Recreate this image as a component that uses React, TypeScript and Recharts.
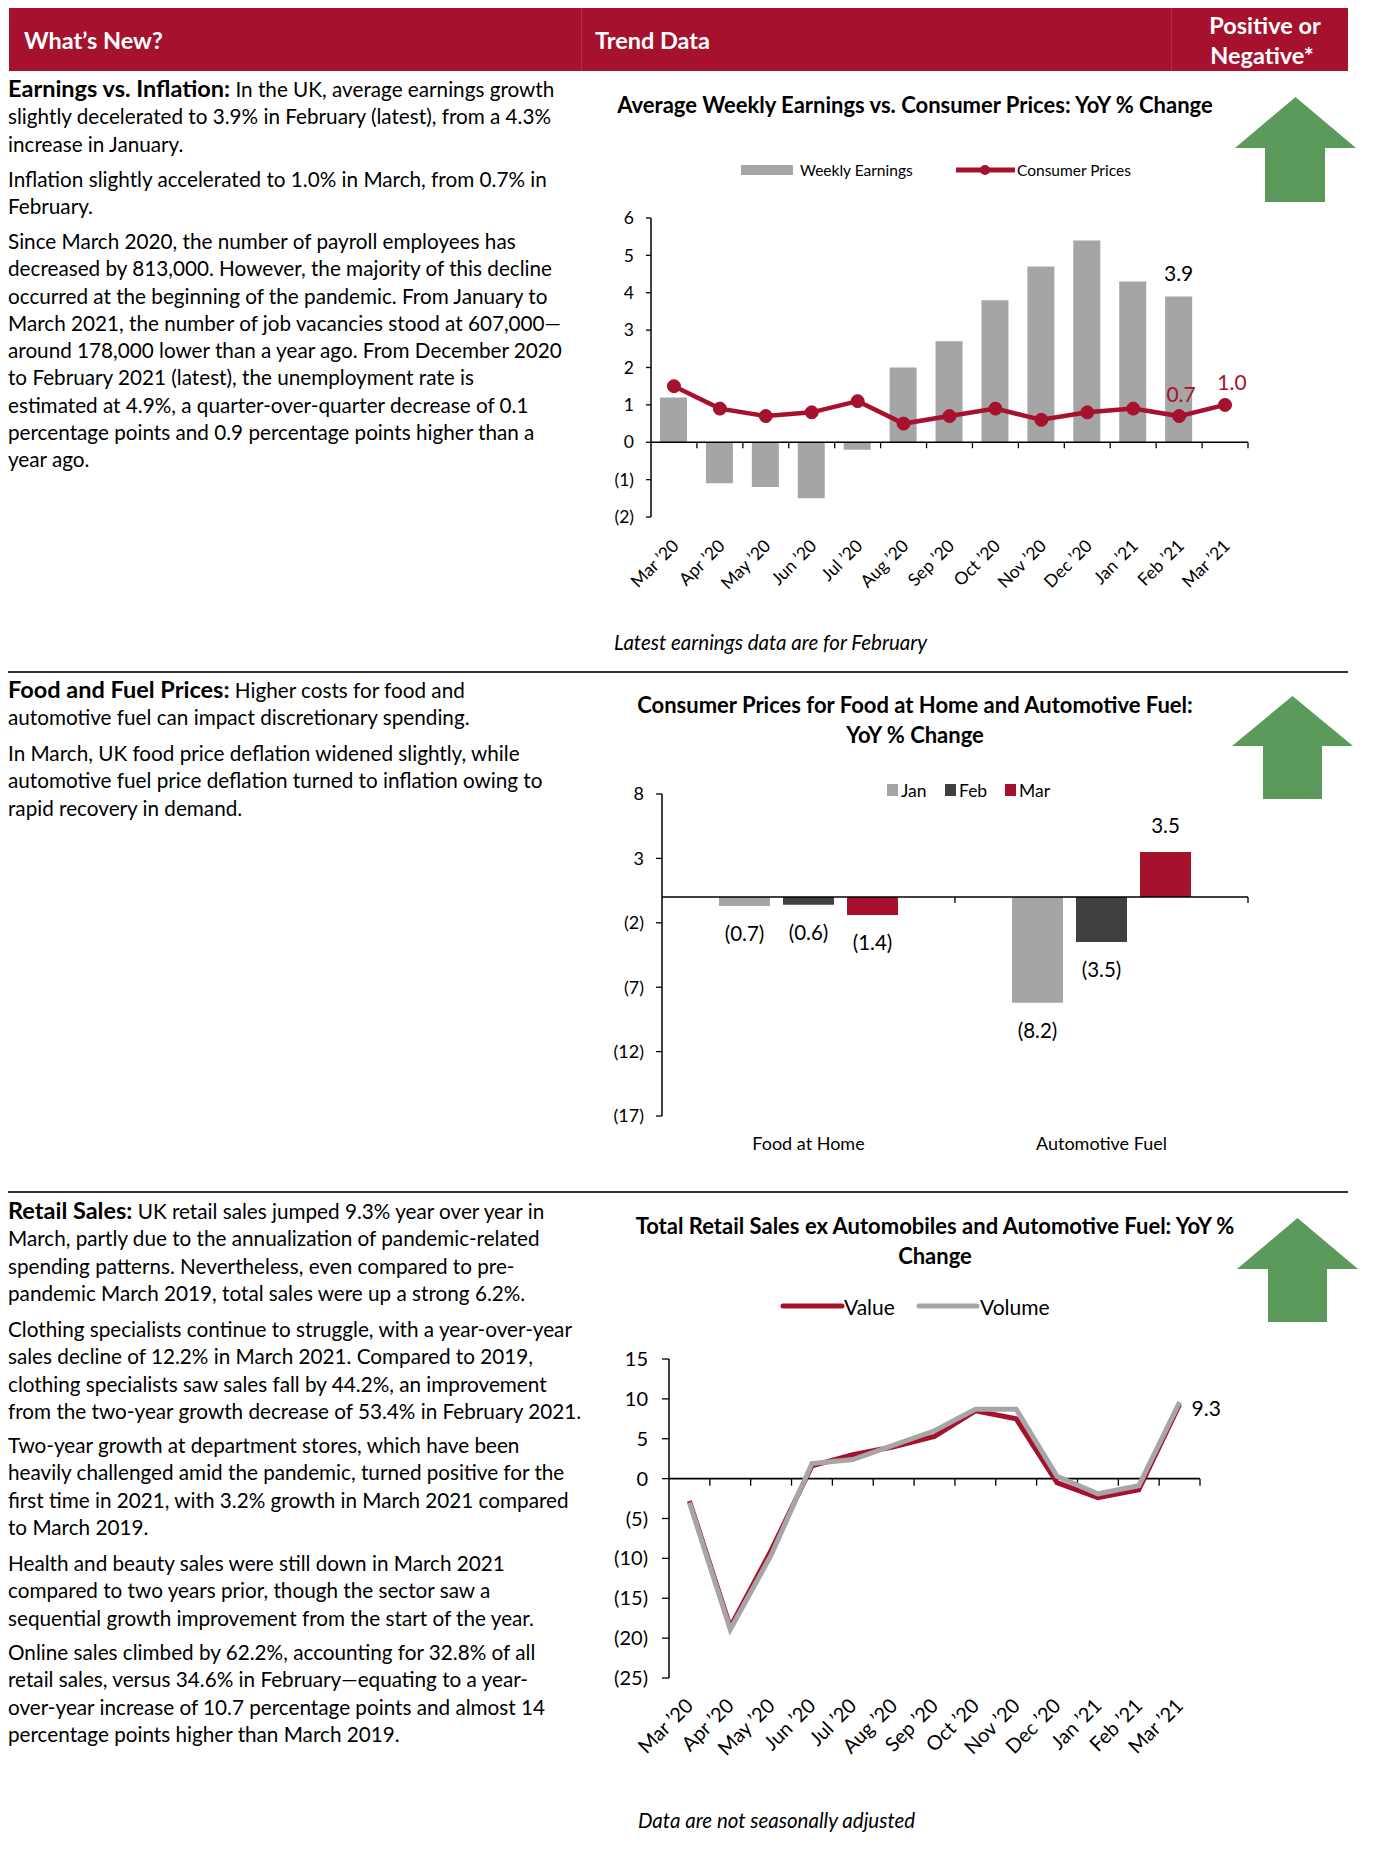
import React from 'react';
import { ComposedChart, BarChart, Bar, Line, XAxis, YAxis, ReferenceLine, LabelList } from 'recharts';

const FONT = 'Lato, "Liberation Sans", sans-serif';
const RED = '#a6112d';
const GRAY = '#a5a5a5';
const DARK = '#404040';
const GREEN = '#5c9a5b';

// Average Weekly Earnings vs. Consumer Prices
const months = ['Mar ’20', 'Apr ’20', 'May ’20', 'Jun ’20', 'Jul ’20', 'Aug ’20', 'Sep ’20', 'Oct ’20', 'Nov ’20', 'Dec ’20', 'Jan ’21', 'Feb ’21', 'Mar ’21'];
const weeklyEarnings = [1.2, -1.1, -1.2, -1.5, -0.2, 2.0, 2.7, 3.8, 4.7, 5.4, 4.3, 3.9, null];
const consumerPrices = [1.5, 0.9, 0.7, 0.8, 1.1, 0.5, 0.7, 0.9, 0.6, 0.8, 0.9, 0.7, 1.0];
const earningsTicks = [-2, -1, 0, 1, 2, 3, 4, 5, 6];
const earningsLabelAt = [11];
const cpiLabelAt = [11, 12];

// Consumer Prices for Food at Home and Automotive Fuel
const priceGroups = ['Food at Home', 'Automotive Fuel'];
const priceSeries = ['Jan', 'Feb', 'Mar'];
const janPrices = [-0.7, -8.2];
const febPrices = [-0.6, -3.5];
const marPrices = [-1.4, 3.5];
const priceTicks = [-17, -12, -7, -2, 3, 8];

// Total Retail Sales ex Automobiles and Automotive Fuel
const salesValue = [-2.8, -18.6, -9.0, 1.6, 3.0, 4.0, 5.3, 8.5, 7.5, -0.5, -2.4, -1.4, 9.3];
const salesVolume = [-3.0, -18.9, -9.6, 1.9, 2.4, 4.2, 6.0, 8.7, 8.7, 0.3, -1.9, -0.9, 9.6];
const salesTicks = [-25, -20, -15, -10, -5, 0, 5, 10, 15];

const paren = (v: number) => (v < 0 ? `(${-v})` : `${v}`);
const paren1 = (v: number) => (v < 0 ? `(${(-v).toFixed(1)})` : v.toFixed(1));

const box = (p: any) => {
  const vb = p.viewBox || {};
  return {
    x: Number(vb.x ?? p.x ?? 0),
    y: Number(vb.y ?? p.y ?? 0),
    w: Number(vb.width ?? p.width ?? 0),
    h: Number(vb.height ?? p.height ?? 0),
  };
};

function EndLabel(props: any) {
  const { gap, color = '#000', size = 20.5, dx = 0 } = props;
  const b = box(props);
  const v = Number(props.value);
  const cx = b.x + b.w / 2 + dx;
  const cy = v < 0 ? Math.max(b.y, b.y + b.h) + gap : Math.min(b.y, b.y + b.h) - gap;
  return (
    <text x={cx} y={cy} textAnchor="middle" dominantBaseline="central" fontSize={size} fontFamily={FONT} fill={color}>
      {paren1(v)}
    </text>
  );
}

function MonthTick(props: any) {
  const { x, y, payload, dx, dy, size } = props;
  return (
    <g transform={`translate(${x + dx},${y + dy}) rotate(-45)`}>
      <text x={0} y={0} textAnchor="end" fontSize={size} fontFamily={FONT} fill="#000">
        {payload.value}
      </text>
    </g>
  );
}

// zero line drawn as the category axis, tick marks at band edges
function ZeroAxis(props: any) {
  const { x1, y1, x2, count, tick } = props;
  const step = (x2 - x1) / count;
  return (
    <g>
      <line x1={x1} y1={y1} x2={x2} y2={y1} stroke="#000" strokeWidth={1.6} />
      {Array.from({ length: count }, (_, i) => x1 + step * (i + 1)).map((x, i) => (
        <line key={i} x1={x} x2={x} y1={y1} y2={y1 + tick} stroke="#000" strokeWidth={1.3} />
      ))}
    </g>
  );
}

const yAxisProps = (size: number, margin: number, tickSize: number) => ({
  width: 60,
  interval: 0 as const,
  tickFormatter: paren,
  axisLine: { stroke: '#000', strokeWidth: 1.5 },
  tickLine: { stroke: '#000', strokeWidth: 1.3 },
  tickSize,
  tickMargin: margin,
  tick: { fill: '#000', fontSize: size, fontFamily: FONT },
});

function EarningsChart() {
  const data = months.map((month, i) => ({ month, earnings: weeklyEarnings[i], cpi: consumerPrices[i] }));
  return (
    <div style={{ position: 'absolute', left: 580, top: 150 }}>
      <ComposedChart width={700} height={470} data={data} margin={{ top: 68, right: 32, bottom: 8, left: 11 }}>
        <XAxis
          dataKey="month"
          axisLine={false}
          tickLine={false}
          tickSize={0}
          tickMargin={0}
          interval={0}
          height={95}
          tick={(p: any) => <MonthTick {...p} dx={6} dy={30} size={17.5} />}
        />
        <YAxis domain={[-2, 6]} ticks={earningsTicks} {...yAxisProps(17.5, 12, 5)} />
        <ReferenceLine y={0} shape={(p: any) => <ZeroAxis {...p} count={months.length} tick={6} />} />
        <Bar dataKey="earnings" fill={GRAY} barSize={27} isAnimationActive={false}>
          <LabelList
            dataKey="earnings"
            content={(p: any) => (earningsLabelAt.includes(p.index) ? <EndLabel {...p} gap={24} size={21} /> : null)}
          />
        </Bar>
        <Line
          dataKey="cpi"
          type="linear"
          stroke={RED}
          strokeWidth={4.5}
          dot={{ r: 6.5, fill: RED, stroke: RED, strokeWidth: 1 }}
          isAnimationActive={false}
        >
          <LabelList
            dataKey="cpi"
            content={(p: any) =>
              cpiLabelAt.includes(p.index) ? <EndLabel {...p} gap={23} size={21} color={RED} dx={p.index === 12 ? 7 : 2} /> : null
            }
          />
        </Line>
      </ComposedChart>
    </div>
  );
}

function PricesChart() {
  const data = priceGroups.map((group, i) => ({ group, Jan: janPrices[i], Feb: febPrices[i], Mar: marPrices[i] }));
  const colors = [GRAY, DARK, RED];
  return (
    <div style={{ position: 'absolute', left: 580, top: 760 }}>
      <BarChart width={700} height={420} data={data} margin={{ top: 34, right: 32, bottom: 8, left: 22 }} barSize={51} barGap={13}>
        <XAxis
          dataKey="group"
          axisLine={false}
          tickLine={false}
          tickSize={0}
          tickMargin={0}
          height={56}
          tick={(p: any) => (
            <text x={p.x} y={p.y + 27} textAnchor="middle" dominantBaseline="central" fontSize={18} fontFamily={FONT} fill="#000">
              {p.payload.value}
            </text>
          )}
        />
        <YAxis domain={[-17, 8]} ticks={priceTicks} {...yAxisProps(18, 12, 6)} />
        <ReferenceLine y={0} shape={(p: any) => <ZeroAxis {...p} count={priceGroups.length} tick={6} />} />
        {priceSeries.map((s, i) => (
          <Bar key={s} dataKey={s} fill={colors[i]} isAnimationActive={false}>
            <LabelList dataKey={s} content={(p: any) => <EndLabel {...p} gap={27} />} />
          </Bar>
        ))}
      </BarChart>
    </div>
  );
}

function SalesChart() {
  const data = months.map((month, i) => ({ month, value: salesValue[i], volume: salesVolume[i] }));
  const last = months.length - 1;
  return (
    <div style={{ position: 'absolute', left: 580, top: 1340 }}>
      <ComposedChart width={660} height={440} data={data} margin={{ top: 19, right: 40, bottom: 8, left: 29 }}>
        <XAxis
          dataKey="month"
          scale="band"
          axisLine={false}
          tickLine={false}
          tickSize={0}
          tickMargin={0}
          interval={0}
          height={94}
          tick={(p: any) => <MonthTick {...p} dx={5} dy={29} size={20} />}
        />
        <YAxis domain={[-25, 15]} ticks={salesTicks} {...yAxisProps(20, 14, 7)} />
        <ReferenceLine y={0} shape={(p: any) => <ZeroAxis {...p} count={months.length} tick={7} />} />
        <Line dataKey="value" type="linear" stroke={RED} strokeWidth={5} dot={false} isAnimationActive={false}>
          <LabelList
            dataKey="value"
            content={(p: any) => {
              if (p.index !== last) return null;
              const b = box(p);
              return (
                <text x={b.x + 12} y={b.y + 3} dominantBaseline="central" fontSize={21} fontFamily={FONT} fill="#000">
                  {Number(p.value).toFixed(1)}
                </text>
              );
            }}
          />
        </Line>
        <Line dataKey="volume" type="linear" stroke="#a6a6a6" strokeWidth={5} dot={false} isAnimationActive={false} />
      </ComposedChart>
    </div>
  );
}

function Arrow({ left, right, top, shoulder, shaftL, shaftR, bottom }: any) {
  const cx = (left + right) / 2;
  const pts = [
    [cx, top], [right, shoulder], [shaftR, shoulder], [shaftR, bottom],
    [shaftL, bottom], [shaftL, shoulder], [left, shoulder],
  ].map((p) => p.join(',')).join(' ');
  return (
    <svg style={{ position: 'absolute', left: 0, top: 0, overflow: 'visible' }} width={1} height={1}>
      <polygon points={pts} fill={GREEN} />
    </svg>
  );
}

const textStyle: React.CSSProperties = { fontFamily: FONT, fontSize: 20.7, lineHeight: '27.3px', color: '#000' };

function Para({ top, lines, lead }: { top: number; lines: string[]; lead?: string }) {
  return (
    <div style={{ position: 'absolute', left: 8, top, ...textStyle }}>
      {lines.map((l, i) => (
        <div key={i} style={{ whiteSpace: 'nowrap' }}>
          {i === 0 && lead ? <b style={{ fontSize: 23.5 }}>{lead}</b> : null}
          {l}
        </div>
      ))}
    </div>
  );
}

function Abs({ x, y, children, style }: any) {
  return (
    <div style={{ position: 'absolute', left: x, top: y, transform: 'translateY(-50%)', whiteSpace: 'nowrap', fontFamily: FONT, ...style }}>
      {children}
    </div>
  );
}

function Centered({ cx, y, children, style }: any) {
  return (
    <div style={{ position: 'absolute', left: cx - 400, width: 800, top: y, transform: 'translateY(-50%)', textAlign: 'center', whiteSpace: 'nowrap', fontFamily: FONT, ...style }}>
      {children}
    </div>
  );
}

const titleStyle = { fontWeight: 700, fontSize: 22, color: '#000' };
const headStyle = { color: '#fff', fontWeight: 700, fontSize: 23.5 };

export default function App() {
  return (
    <div style={{ position: 'absolute', left: 0, top: 0, width: 1384, height: 1859, background: '#fff', overflow: 'hidden' }}>
      {/* header band */}
      <div style={{ position: 'absolute', left: 9, top: 8, width: 1339, height: 63, background: RED }} />
      <div style={{ position: 'absolute', left: 581, top: 8, width: 1, height: 63, background: 'rgba(255,255,255,0.12)' }} />
      <div style={{ position: 'absolute', left: 1171, top: 8, width: 1, height: 63, background: 'rgba(255,255,255,0.12)' }} />
      <Abs x={24} y={40} style={headStyle}>What’s New?</Abs>
      <Abs x={595} y={40} style={headStyle}>Trend Data</Abs>
      <Centered cx={1265} y={25} style={headStyle}>Positive or</Centered>
      <Centered cx={1262} y={55} style={headStyle}>Negative*</Centered>

      {/* section rules */}
      <div style={{ position: 'absolute', left: 8, top: 671, width: 1340, height: 1.5, background: '#333' }} />
      <div style={{ position: 'absolute', left: 8, top: 1191, width: 1340, height: 1.5, background: '#333' }} />

      {/* section 1 text */}
      <Para
        top={75}
        lead="Earnings vs. Inflation:"
        lines={[
          ' In the UK, average earnings growth',
          'slightly decelerated to 3.9% in February (latest), from a 4.3%',
          'increase in January.',
        ]}
      />
      <Para top={166} lines={['Inflation slightly accelerated to 1.0% in March, from 0.7% in', 'February.']} />
      <Para
        top={228}
        lines={[
          'Since March 2020, the number of payroll employees has',
          'decreased by 813,000. However, the majority of this decline',
          'occurred at the beginning of the pandemic. From January to',
          'March 2021, the number of job vacancies stood at 607,000—',
          'around 178,000 lower than a year ago. From December 2020',
          'to February 2021 (latest), the unemployment rate is',
          'estimated at 4.9%, a quarter-over-quarter decrease of 0.1',
          'percentage points and 0.9 percentage points higher than a',
          'year ago.',
        ]}
      />

      {/* section 2 text */}
      <Para
        top={676}
        lead="Food and Fuel Prices:"
        lines={[' Higher costs for food and', 'automotive fuel can impact discretionary spending.']}
      />
      <Para
        top={740}
        lines={[
          'In March, UK food price deflation widened slightly, while',
          'automotive fuel price deflation turned to inflation owing to',
          'rapid recovery in demand.',
        ]}
      />

      {/* section 3 text */}
      <Para
        top={1197}
        lead="Retail Sales:"
        lines={[
          ' UK retail sales jumped 9.3% year over year in',
          'March, partly due to the annualization of pandemic-related',
          'spending patterns. Nevertheless, even compared to pre-',
          'pandemic March 2019, total sales were up a strong 6.2%.',
        ]}
      />
      <Para
        top={1316}
        lines={[
          'Clothing specialists continue to struggle, with a year-over-year',
          'sales decline of 12.2% in March 2021. Compared to 2019,',
          'clothing specialists saw sales fall by 44.2%, an improvement',
          'from the two-year growth decrease of 53.4% in February 2021.',
        ]}
      />
      <Para
        top={1432}
        lines={[
          'Two-year growth at department stores, which have been',
          'heavily challenged amid the pandemic, turned positive for the',
          'first time in 2021, with 3.2% growth in March 2021 compared',
          'to March 2019.',
        ]}
      />
      <Para
        top={1550}
        lines={[
          'Health and beauty sales were still down in March 2021',
          'compared to two years prior, though the sector saw a',
          'sequential growth improvement from the start of the year.',
        ]}
      />
      <Para
        top={1639}
        lines={[
          'Online sales climbed by 62.2%, accounting for 32.8% of all',
          'retail sales, versus 34.6% in February—equating to a year-',
          'over-year increase of 10.7 percentage points and almost 14',
          'percentage points higher than March 2019.',
        ]}
      />

      {/* chart 1 */}
      <Centered cx={915} y={104} style={titleStyle}>Average Weekly Earnings vs. Consumer Prices: YoY % Change</Centered>
      <svg style={{ position: 'absolute', left: 735, top: 160 }} width={290} height={20}>
        <rect x={6} y={5} width={52} height={10} fill={GRAY} />
        <line x1={221} x2={280} y1={10} y2={10} stroke={RED} strokeWidth={5} />
        <circle cx={250} cy={10} r={5} fill={RED} />
      </svg>
      <Abs x={800} y={170} style={{ fontSize: 15.5 }}>Weekly Earnings</Abs>
      <Abs x={1017} y={170} style={{ fontSize: 15.5 }}>Consumer Prices</Abs>
      <EarningsChart />
      <Abs x={614} y={642} style={{ fontSize: 20.5, fontStyle: 'italic' }}>Latest earnings data are for February</Abs>
      <Arrow left={1235} right={1356} top={97} shoulder={148} shaftL={1265} shaftR={1325} bottom={202} />

      {/* chart 2 */}
      <Centered cx={915} y={704} style={titleStyle}>Consumer Prices for Food at Home and Automotive Fuel:</Centered>
      <Centered cx={915} y={734} style={titleStyle}>YoY % Change</Centered>
      <svg style={{ position: 'absolute', left: 880, top: 780 }} width={140} height={20}>
        <rect x={7} y={4} width={11} height={12} fill={GRAY} />
        <rect x={65} y={4} width={11} height={12} fill={DARK} />
        <rect x={125} y={4} width={11} height={12} fill={RED} />
      </svg>
      <Abs x={901} y={790} style={{ fontSize: 17.5 }}>{priceSeries[0]}</Abs>
      <Abs x={959} y={790} style={{ fontSize: 17.5 }}>{priceSeries[1]}</Abs>
      <Abs x={1019} y={790} style={{ fontSize: 17.5 }}>{priceSeries[2]}</Abs>
      <PricesChart />
      <Arrow left={1232} right={1353} top={696} shoulder={746} shaftL={1263} shaftR={1322} bottom={799} />

      {/* chart 3 */}
      <Centered cx={935} y={1225} style={titleStyle}>Total Retail Sales ex Automobiles and Automotive Fuel: YoY %</Centered>
      <Centered cx={935} y={1255} style={titleStyle}>Change</Centered>
      <svg style={{ position: 'absolute', left: 775, top: 1296 }} width={210} height={20}>
        <line x1={8} x2={67} y1={10} y2={10} stroke={RED} strokeWidth={5} strokeLinecap="round" />
        <line x1={144} x2={202} y1={10} y2={10} stroke="#a6a6a6" strokeWidth={5} strokeLinecap="round" />
      </svg>
      <Abs x={844} y={1306} style={{ fontSize: 21 }}>Value</Abs>
      <Abs x={980} y={1306} style={{ fontSize: 21 }}>Volume</Abs>
      <SalesChart />
      <Abs x={638} y={1820} style={{ fontSize: 20.5, fontStyle: 'italic' }}>Data are not seasonally adjusted</Abs>
      <Arrow left={1237} right={1358} top={1218} shoulder={1269} shaftL={1268} shaftR={1327} bottom={1322} />
    </div>
  );
}
